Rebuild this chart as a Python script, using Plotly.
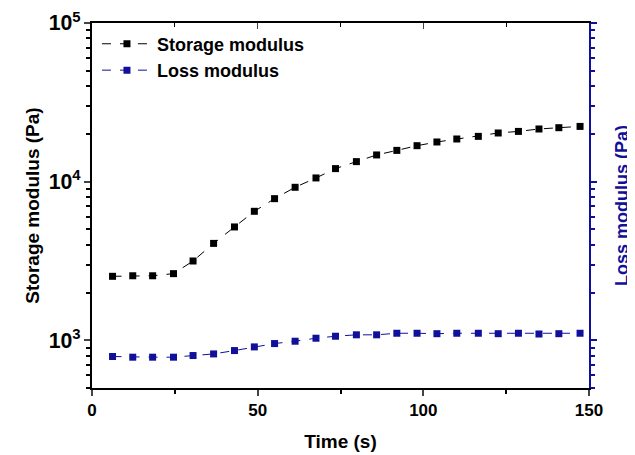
import plotly.graph_objects as go

time_s = [6.2, 12.3, 18.3, 24.6, 30.5, 36.7, 43.0, 49.0, 55.1, 61.3, 67.6, 73.5,
          79.8, 85.9, 92.0, 98.1, 104.1, 110.1, 116.6, 122.6, 128.7, 134.9, 140.9, 147.3]
storage_modulus = [2530, 2550, 2550, 2630, 3160, 4080, 5180, 6500, 7810, 9210, 10550, 12080,
                   13370, 14730, 15740, 16850, 17780, 18570, 19290, 20260, 20730, 21470, 21880, 22290]
loss_modulus = [790, 782, 782, 782, 801, 820, 861, 908, 953, 986, 1030, 1060,
                1082, 1082, 1107, 1107, 1100, 1107, 1107, 1100, 1107, 1095, 1100, 1107]

NAVY = "#10109a"
FONT = "Arial, Liberation Sans, sans-serif"

fig = go.Figure()
fig.add_trace(go.Scatter(
    x=time_s, y=storage_modulus, name="<b>Storage modulus</b>", mode="lines+markers",
    line=dict(color="black", width=1, dash="dash"),
    marker=dict(symbol="square", size=7, color="black"),
))
fig.add_trace(go.Scatter(
    x=time_s, y=loss_modulus, name="<b>Loss modulus</b>", mode="lines+markers",
    line=dict(color=NAVY, width=1, dash="dash"),
    marker=dict(symbol="square", size=7, color=NAVY),
    xaxis="x2", yaxis="y2",
))

yr = [2.699, 5]
fig.update_layout(
    width=627, height=447,
    margin=dict(l=84, r=46, t=15, b=67),
    paper_bgcolor="white", plot_bgcolor="white",
    font=dict(family=FONT, size=14, color="black"),
    showlegend=True,
    legend=dict(x=0.01, y=0.993, xanchor="left", yanchor="top",
                font=dict(size=18, family=FONT, color="black"),
                bgcolor="rgba(0,0,0,0)", tracegroupgap=0, itemwidth=50),
    xaxis=dict(range=[0, 150], tickvals=[0, 50, 100, 150], ticks="outside", ticklen=6,
               tickwidth=1.5, showline=True, linecolor="black", linewidth=2,
               showgrid=False, zeroline=False, automargin=False,
               tickfont=dict(size=17, family=FONT, weight="bold"),
               minor=dict(dtick=25, ticks="outside", ticklen=4, tickcolor="black"),
               title=dict(text="<b>Time (s)</b>", font=dict(size=19), standoff=15)),
    xaxis2=dict(range=[0, 150], overlaying="x", side="top", anchor="y2",
                tickvals=[0, 50, 100, 150], ticks="inside", ticklen=6, automargin=False,
                showticklabels=False, showline=True, linecolor="black", linewidth=2,
                showgrid=False, zeroline=False,
                minor=dict(dtick=25, ticks="inside", ticklen=4, tickcolor="black")),
    yaxis=dict(type="log", range=yr, dtick=1, exponentformat="power",
               ticks="outside", ticklen=6, tickwidth=1.5, showline=True,
               linecolor="black", linewidth=2, showgrid=False, zeroline=False,
               automargin=False,
               tickfont=dict(size=17, family=FONT, weight="bold"),
               minor=dict(dtick="D1", ticks="outside", ticklen=4, tickcolor="black"),
               title=dict(text="<b>Storage modulus (Pa)</b>", font=dict(size=19), standoff=4)),
    yaxis2=dict(type="log", range=yr, dtick=1, overlaying="y", side="right", anchor="x2",
                ticks="outside", ticklen=6, tickwidth=1.5, tickcolor=NAVY, automargin=False,
                showticklabels=False, showline=True, linecolor=NAVY, linewidth=2,
                showgrid=False, zeroline=False,
                minor=dict(dtick="D1", ticks="outside", ticklen=4, tickcolor=NAVY),
                title=dict(text="<b>Loss modulus (Pa)</b>", font=dict(size=18, color=NAVY),
                           standoff=19)),
)

fig.write_html("out.html")
